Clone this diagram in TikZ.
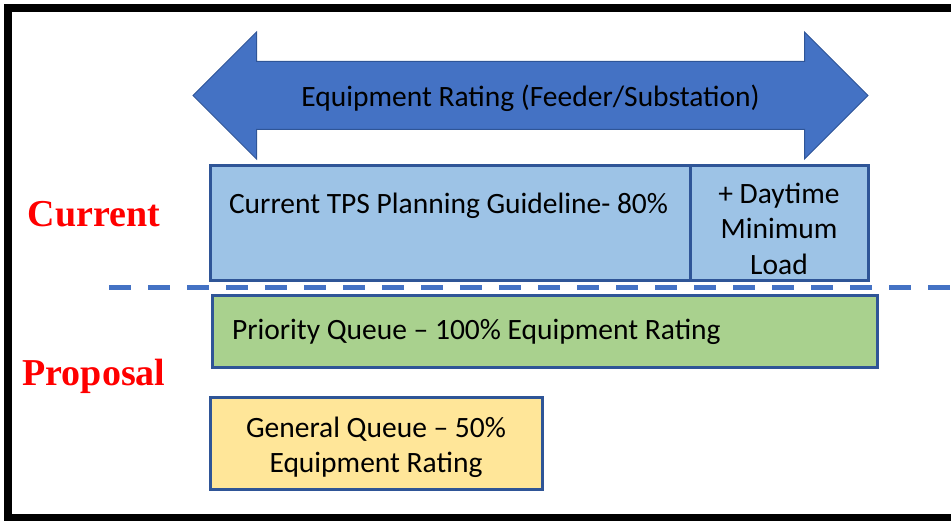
\documentclass[tikz,border=0pt]{standalone}
\usepackage{fontspec}
\setmainfont{Carlito}
\newfontfamily\sidefont{Liberation Serif}
\usetikzlibrary{positioning, shapes.arrows}

\definecolor{ratingblue}{HTML}{4472C4}
\definecolor{edgeblue}{HTML}{2F5597}
\definecolor{guideblue}{HTML}{9DC3E6}
\definecolor{prioritygreen}{HTML}{A9D18E}
\definecolor{generalyellow}{HTML}{FFE699}

\begin{document}
\begin{tikzpicture}[x=1pt, y=-1pt, font=\fontsize{29.5}{35.5}\selectfont,
    box/.style={draw=edgeblue, line width=3pt, rectangle, outer sep=0pt, inner ysep=0pt},
    side/.style={font=\sidefont\bfseries\fontsize{38}{42}\selectfont, text=red, anchor=base}]
    \useasboundingbox (0,0) rectangle (951,521);
    % Define frame
    \draw[line width=8pt] (951,8) -- (8,8) -- (8,518) -- (951,518);

    % Define rating arrow
    \node[double arrow, draw=edgeblue, line width=1pt, fill=ratingblue,
          double arrow head extend=29.5pt, minimum height=675pt,
          text height=25pt, text depth=2pt, inner xsep=0pt, inner ysep=20pt]
          (rating) at (530.5,95.5) {Equipment Rating (Feeder/Substation)};

    % Define boxes
    \node[box, fill=guideblue, anchor=north west, inner xsep=19pt, text width=442pt,
          align=flush left, text height=48pt, text depth=67pt] (guide) at (210,166)
          {Current TPS Planning Guideline- 80\%};
    \node[box, fill=guideblue, minimum width=178pt, minimum height=115pt, inner xsep=0pt,
          align=center, anchor=west] (daytime) [right=0pt of guide]
          {\rule{0pt}{31pt}+ Daytime\\Minimum\\Load};
    \node[box, fill=prioritygreen, minimum width=665pt, minimum height=72pt, inner xsep=20pt,
          text width=625pt, align=flush left] (priority) [below right=15pt and 2pt of guide.south west]
          {Priority Queue -- 100\% Equipment Rating};
    \node[box, fill=generalyellow, minimum width=332pt, minimum height=91pt, inner xsep=0pt,
          align=center] (general) [below right=30pt and -2pt of priority.south west]
          {\rule{0pt}{28pt}General Queue -- 50\%\\Equipment Rating};

    % Define separator
    \coordinate (dashL) at (109,288);
    \coordinate (dashR) at (951,288);
    \draw[ratingblue, line width=5pt, dash pattern=on 22pt off 17pt] (dashL) -- (dashR);

    % Define side labels
    \node[side] (current) at (94,227) {Current};
    \node[side] (proposal) at (94,386) {Proposal};
\end{tikzpicture}
\end{document}
